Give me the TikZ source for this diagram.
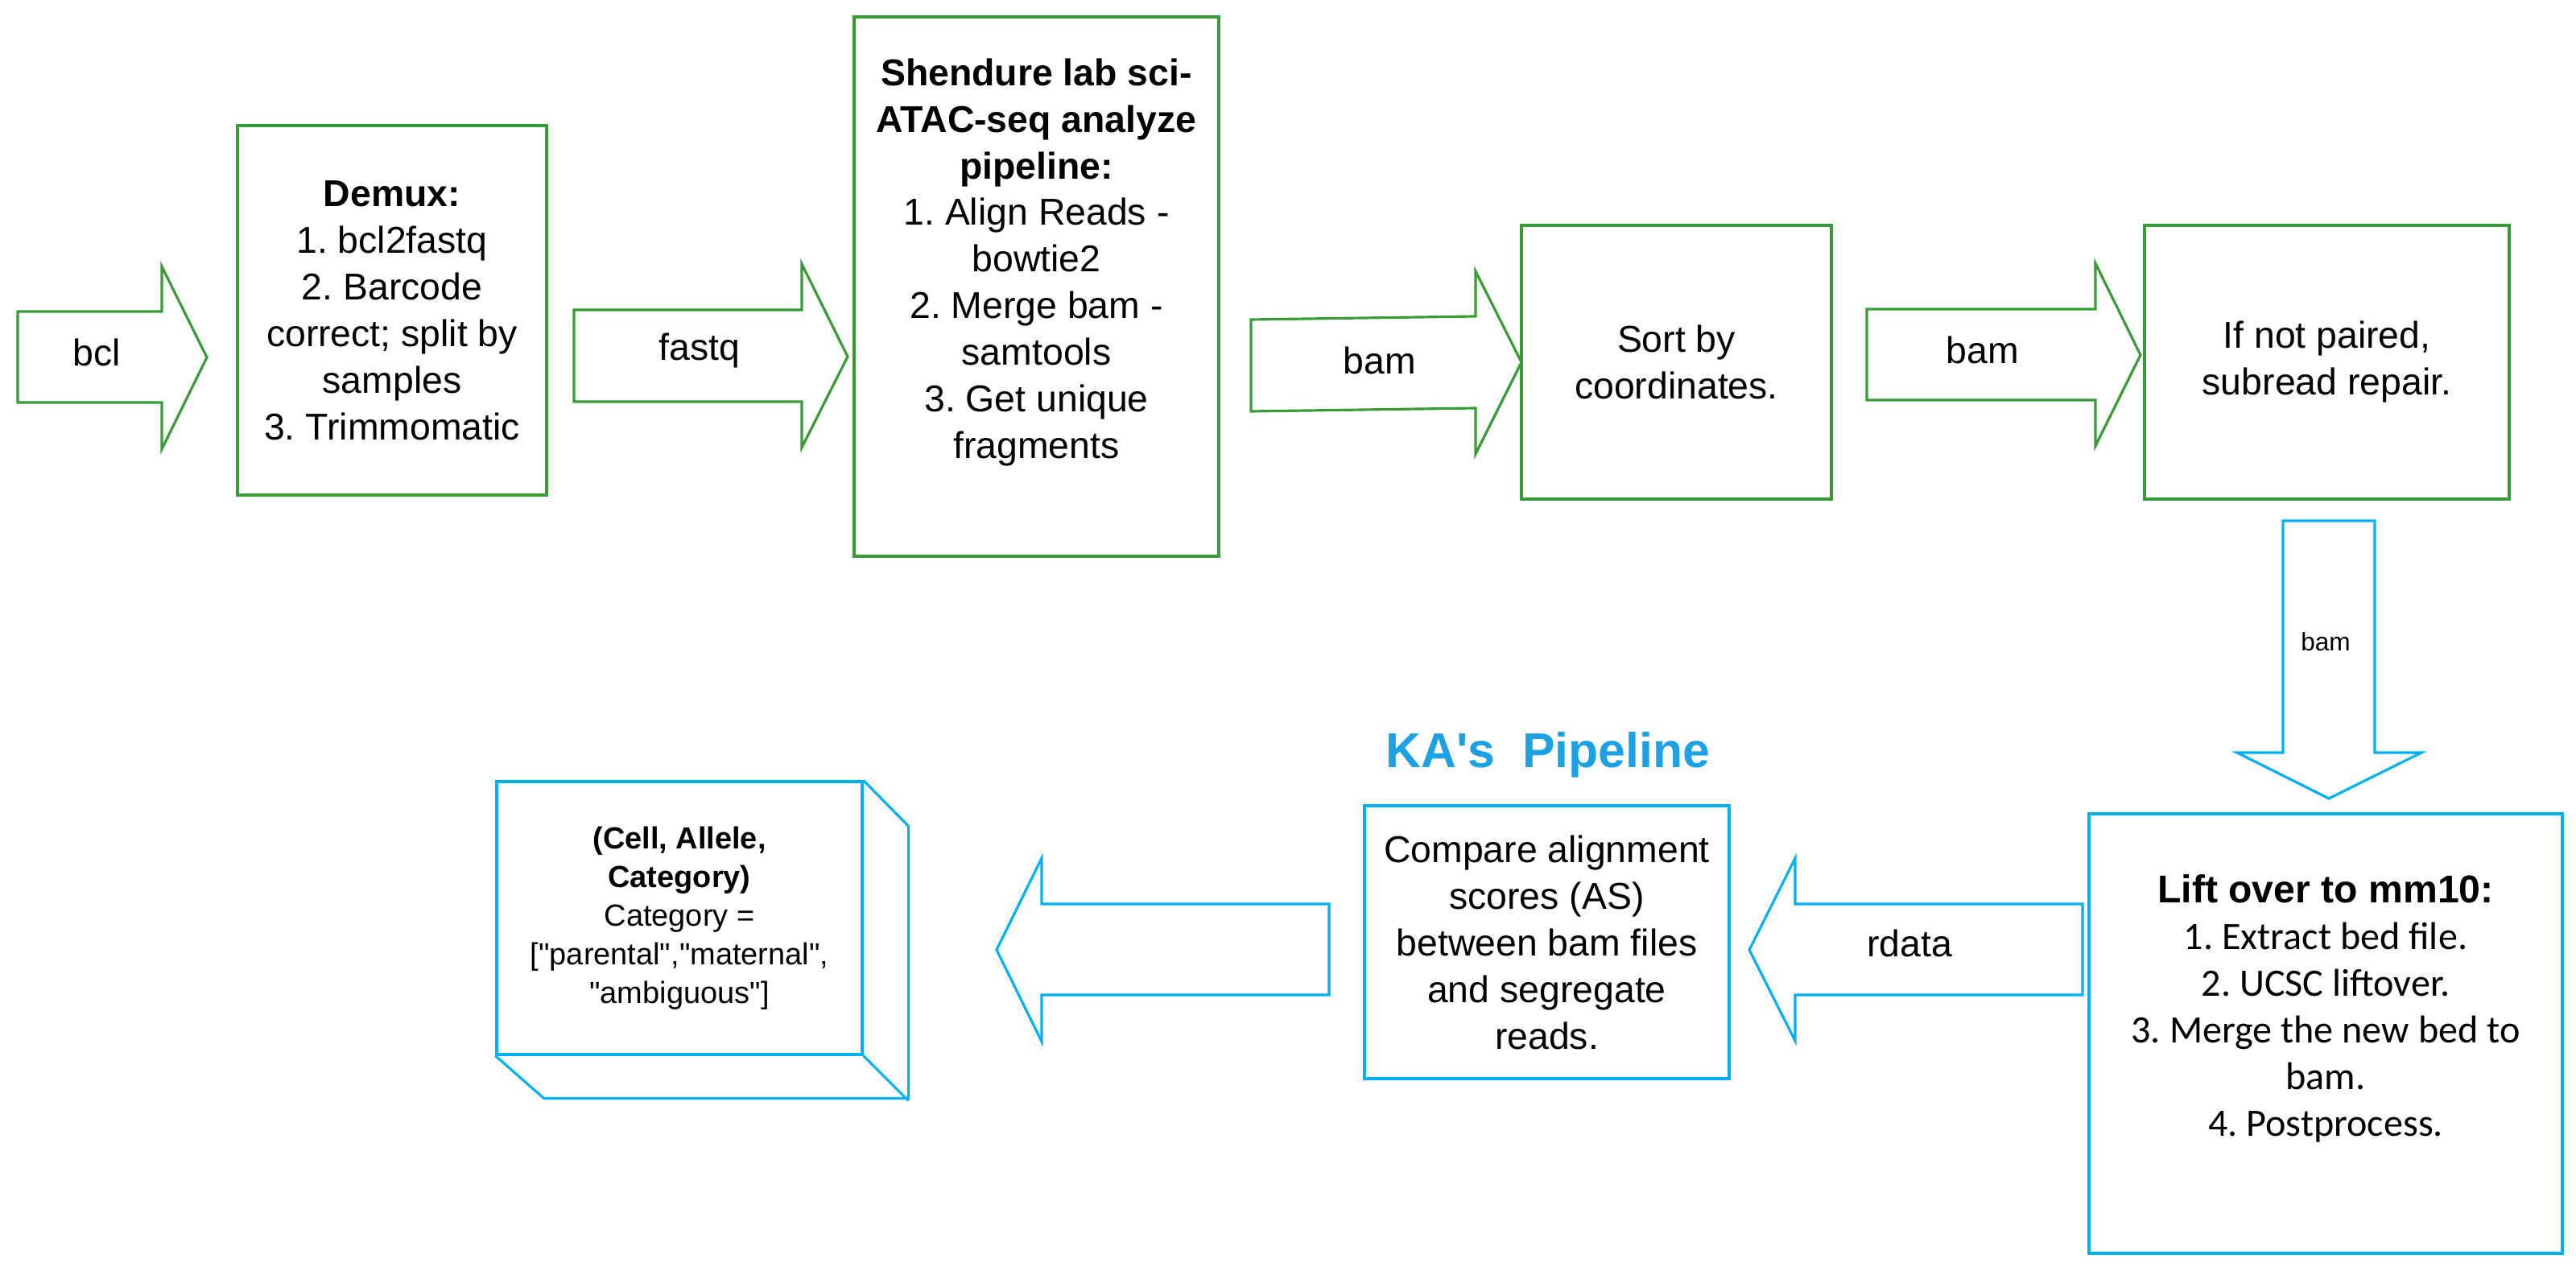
\documentclass[tikz,border=0pt]{standalone}
\usepackage{fontspec}
\setmainfont{Liberation Sans}
\newfontfamily\calibri{Carlito}
\usetikzlibrary{positioning,calc}
\frenchspacing

\definecolor{flowgreen}{RGB}{57,155,55}
\definecolor{flowblue}{RGB}{0,176,240}
\definecolor{kablue}{RGB}{29,161,226}

\newcommand{\dq}{\textquotedbl}

\tikzset{
  greenline/.style={draw=flowgreen, line width=0.9pt, line join=miter},
  blueline/.style={draw=flowblue, line width=0.9pt, line join=miter},
  greenbox/.style={greenline, inner sep=0pt, align=center},
  bluebox/.style={blueline, inner sep=0pt, align=center},
  bigtext/.style={font=\fontsize{13.2}{16.5}\selectfont, align=center, inner sep=0pt},
  smalltext/.style={font=\fontsize{10.8}{13.7}\selectfont, align=center, inner sep=0pt}
}

\begin{document}
\begin{tikzpicture}[x=1cm, y=-1cm]
  \useasboundingbox (0,0) rectangle (32,15.74);

  % upper row (green)
  \node[greenbox, bigtext, minimum width=3.84cm, minimum height=4.59cm] (demux) at (4.87,3.855)
    {\textbf{Demux:}\\1. bcl2fastq\\2. Barcode\\correct; split by\\samples\\3. Trimmomatic};
  \node[greenbox, minimum width=4.53cm, minimum height=6.70cm] (shendure) at (12.875,3.56) {};
  \node[bigtext] (shenduretext) at (12.875,3.26)
    {\textbf{Shendure lab sci-}\\\textbf{ATAC-seq analyze}\\\textbf{pipeline:}\\1. Align Reads -\\bowtie2\\2. Merge bam -\\samtools\\3. Get unique\\fragments};
  \node[greenbox, bigtext, minimum width=3.85cm, minimum height=3.40cm] (sort) at (20.825,4.50)
    {Sort by\\coordinates.};
  \node[greenbox, bigtext, minimum width=4.53cm, minimum height=3.40cm] (repair) at (28.905,4.50)
    {If not paired,\\subread repair.};

  \draw[greenline] (0.22,3.87) -- (2.01,3.87) -- (2.01,3.31) -- (2.57,4.44)
    -- (2.01,5.58) -- (2.01,5.00) -- (0.22,5.00) -- cycle;
  \node[bigtext] (bcl) at (1.20,4.38) {bcl};

  \draw[greenline] (7.13,3.85) -- (9.96,3.85) -- (9.96,3.28) -- (10.53,4.43)
    -- (9.96,5.56) -- (9.96,4.99) -- (7.13,4.99) -- cycle;
  \node[bigtext] (fastq) at (8.69,4.36) {fastq};

  \draw[greenline] (15.54,3.97) -- (18.33,3.93) -- (18.33,3.37) -- (18.90,4.50)
    -- (18.33,5.64) -- (18.33,5.07) -- (15.54,5.11) -- cycle;
  \node[bigtext] (bamone) at (17.14,4.48) {bam};

  \draw[greenline] (23.19,3.84) -- (26.03,3.84) -- (26.03,3.27) -- (26.59,4.41)
    -- (26.03,5.54) -- (26.03,4.97) -- (23.19,4.97) -- cycle;
  \node[bigtext] (bamtwo) at (24.63,4.35) {bam};

  % lower row (blue)
  \draw[blueline] (28.36,6.47) -- (29.50,6.47) -- (29.50,9.35) -- (30.08,9.35)
    -- (28.93,9.92) -- (27.79,9.35) -- (28.36,9.35) -- cycle;
  \node[font=\fontsize{9}{11}\selectfont] (bamdown) at (28.89,7.97) {bam};

  \node[bluebox, minimum width=5.88cm, minimum height=5.46cm] (liftover) at (28.89,12.84) {};
  \node[align=center, inner sep=0pt, font=\calibri\fontsize{13.7}{16.5}\selectfont] (liftovertext) at (28.89,12.53)
    {{\normalfont\bfseries Lift over to mm10:}\\1. Extract bed file.\\2. UCSC liftover.\\3. Merge the new bed to\\bam.\\4. Postprocess.};

  \draw[blueline] (25.87,11.23) -- (22.30,11.23) -- (22.30,10.66) -- (21.73,11.80)
    -- (22.30,12.93) -- (22.30,12.36) -- (25.87,12.36) -- cycle;
  \node[bigtext] (rdata) at (23.72,11.72) {rdata};

  \node[bluebox, bigtext, minimum width=4.53cm, minimum height=3.39cm] (compare) at (19.215,11.705)
    {Compare alignment\\scores (AS)\\between bam files\\and segregate\\reads.};
  \node[font=\fontsize{17.3}{20}\selectfont\bfseries, text=kablue, inner sep=0pt] (kapipeline) at (19.23,9.38)
    {KA\textquotesingle s~~Pipeline};

  \draw[blueline] (16.51,11.23) -- (12.94,11.23) -- (12.94,10.66) -- (12.38,11.80)
    -- (12.94,12.94) -- (12.94,12.36) -- (16.51,12.36) -- cycle;

  \node[bluebox, smalltext, minimum width=4.54cm, minimum height=3.39cm] (result) at (8.44,11.405)
    {\textbf{(Cell, Allele,}\\\textbf{Category)}\\Category =\\{[\dq parental\dq,\dq maternal\dq,}\\\dq ambiguous\dq]};
  \draw[blueline] (result.north east) -- ++(0.56,0.57) -- ++(0,3.38) -- ++(-4.53,0) -- (result.south west);
  \draw[blueline] (result.south east) -- ++(0.56,0.56);
\end{tikzpicture}
\end{document}
